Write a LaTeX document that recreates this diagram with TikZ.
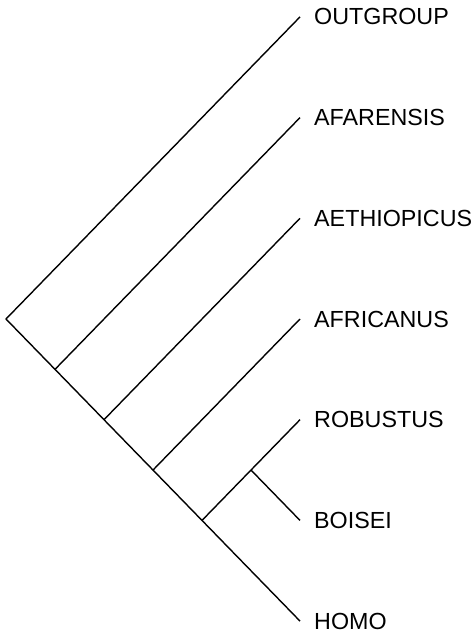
\documentclass[tikz,border=0pt]{standalone}
\usepackage{fontspec}
\setmainfont{Liberation Sans}
\usetikzlibrary{positioning}

\begin{document}
\begin{tikzpicture}[
  x=98pt, y=100.7pt,
  branch/.style={black, line width=1.4pt},
  taxon/.style={font=\fontsize{23.3}{26}\selectfont, anchor=west, inner sep=0pt},
]
  \useasboundingbox (-6pt,-316pt) rectangle (467pt,319pt);

  % Root and splits on the stem
  \coordinate (root) at (0,0);
  \coordinate (n1) at (0.5,-0.5);
  \coordinate (n2) at (1,-1);
  \coordinate (n3) at (1.5,-1.5);
  \coordinate (n4) at (2,-2);
  \coordinate (n5) at (2.5,-1.5);

  % Tips
  \coordinate (outgroup) at (3,3);
  \coordinate (afarensis) at (3,2);
  \coordinate (aethiopicus) at (3,1);
  \coordinate (africanus) at (3,0);
  \coordinate (robustus) at (3,-1);
  \coordinate (boisei) at (3,-2);
  \coordinate (homo) at (3,-3);

  % Taxon names
  \node[taxon, right=14pt of outgroup] (t1) {OUTGROUP};
  \node[taxon, right=14pt of afarensis] (t2) {AFARENSIS};
  \node[taxon, right=14pt of aethiopicus] (t3) {AETHIOPICUS};
  \node[taxon, right=14pt of africanus] (t4) {AFRICANUS};
  \node[taxon, right=14pt of robustus] (t5) {ROBUSTUS};
  \node[taxon, right=14pt of boisei] (t6) {BOISEI};
  \node[taxon, right=14pt of homo] (t7) {HOMO};

  % Branches
  \draw[branch] (outgroup) -- (root) -- (homo);
  \draw[branch] (n1) -- (afarensis);
  \draw[branch] (n2) -- (aethiopicus);
  \draw[branch] (n3) -- (africanus);
  \draw[branch] (n4) -- (robustus);
  \draw[branch] (n5) -- (boisei);
\end{tikzpicture}
\end{document}
